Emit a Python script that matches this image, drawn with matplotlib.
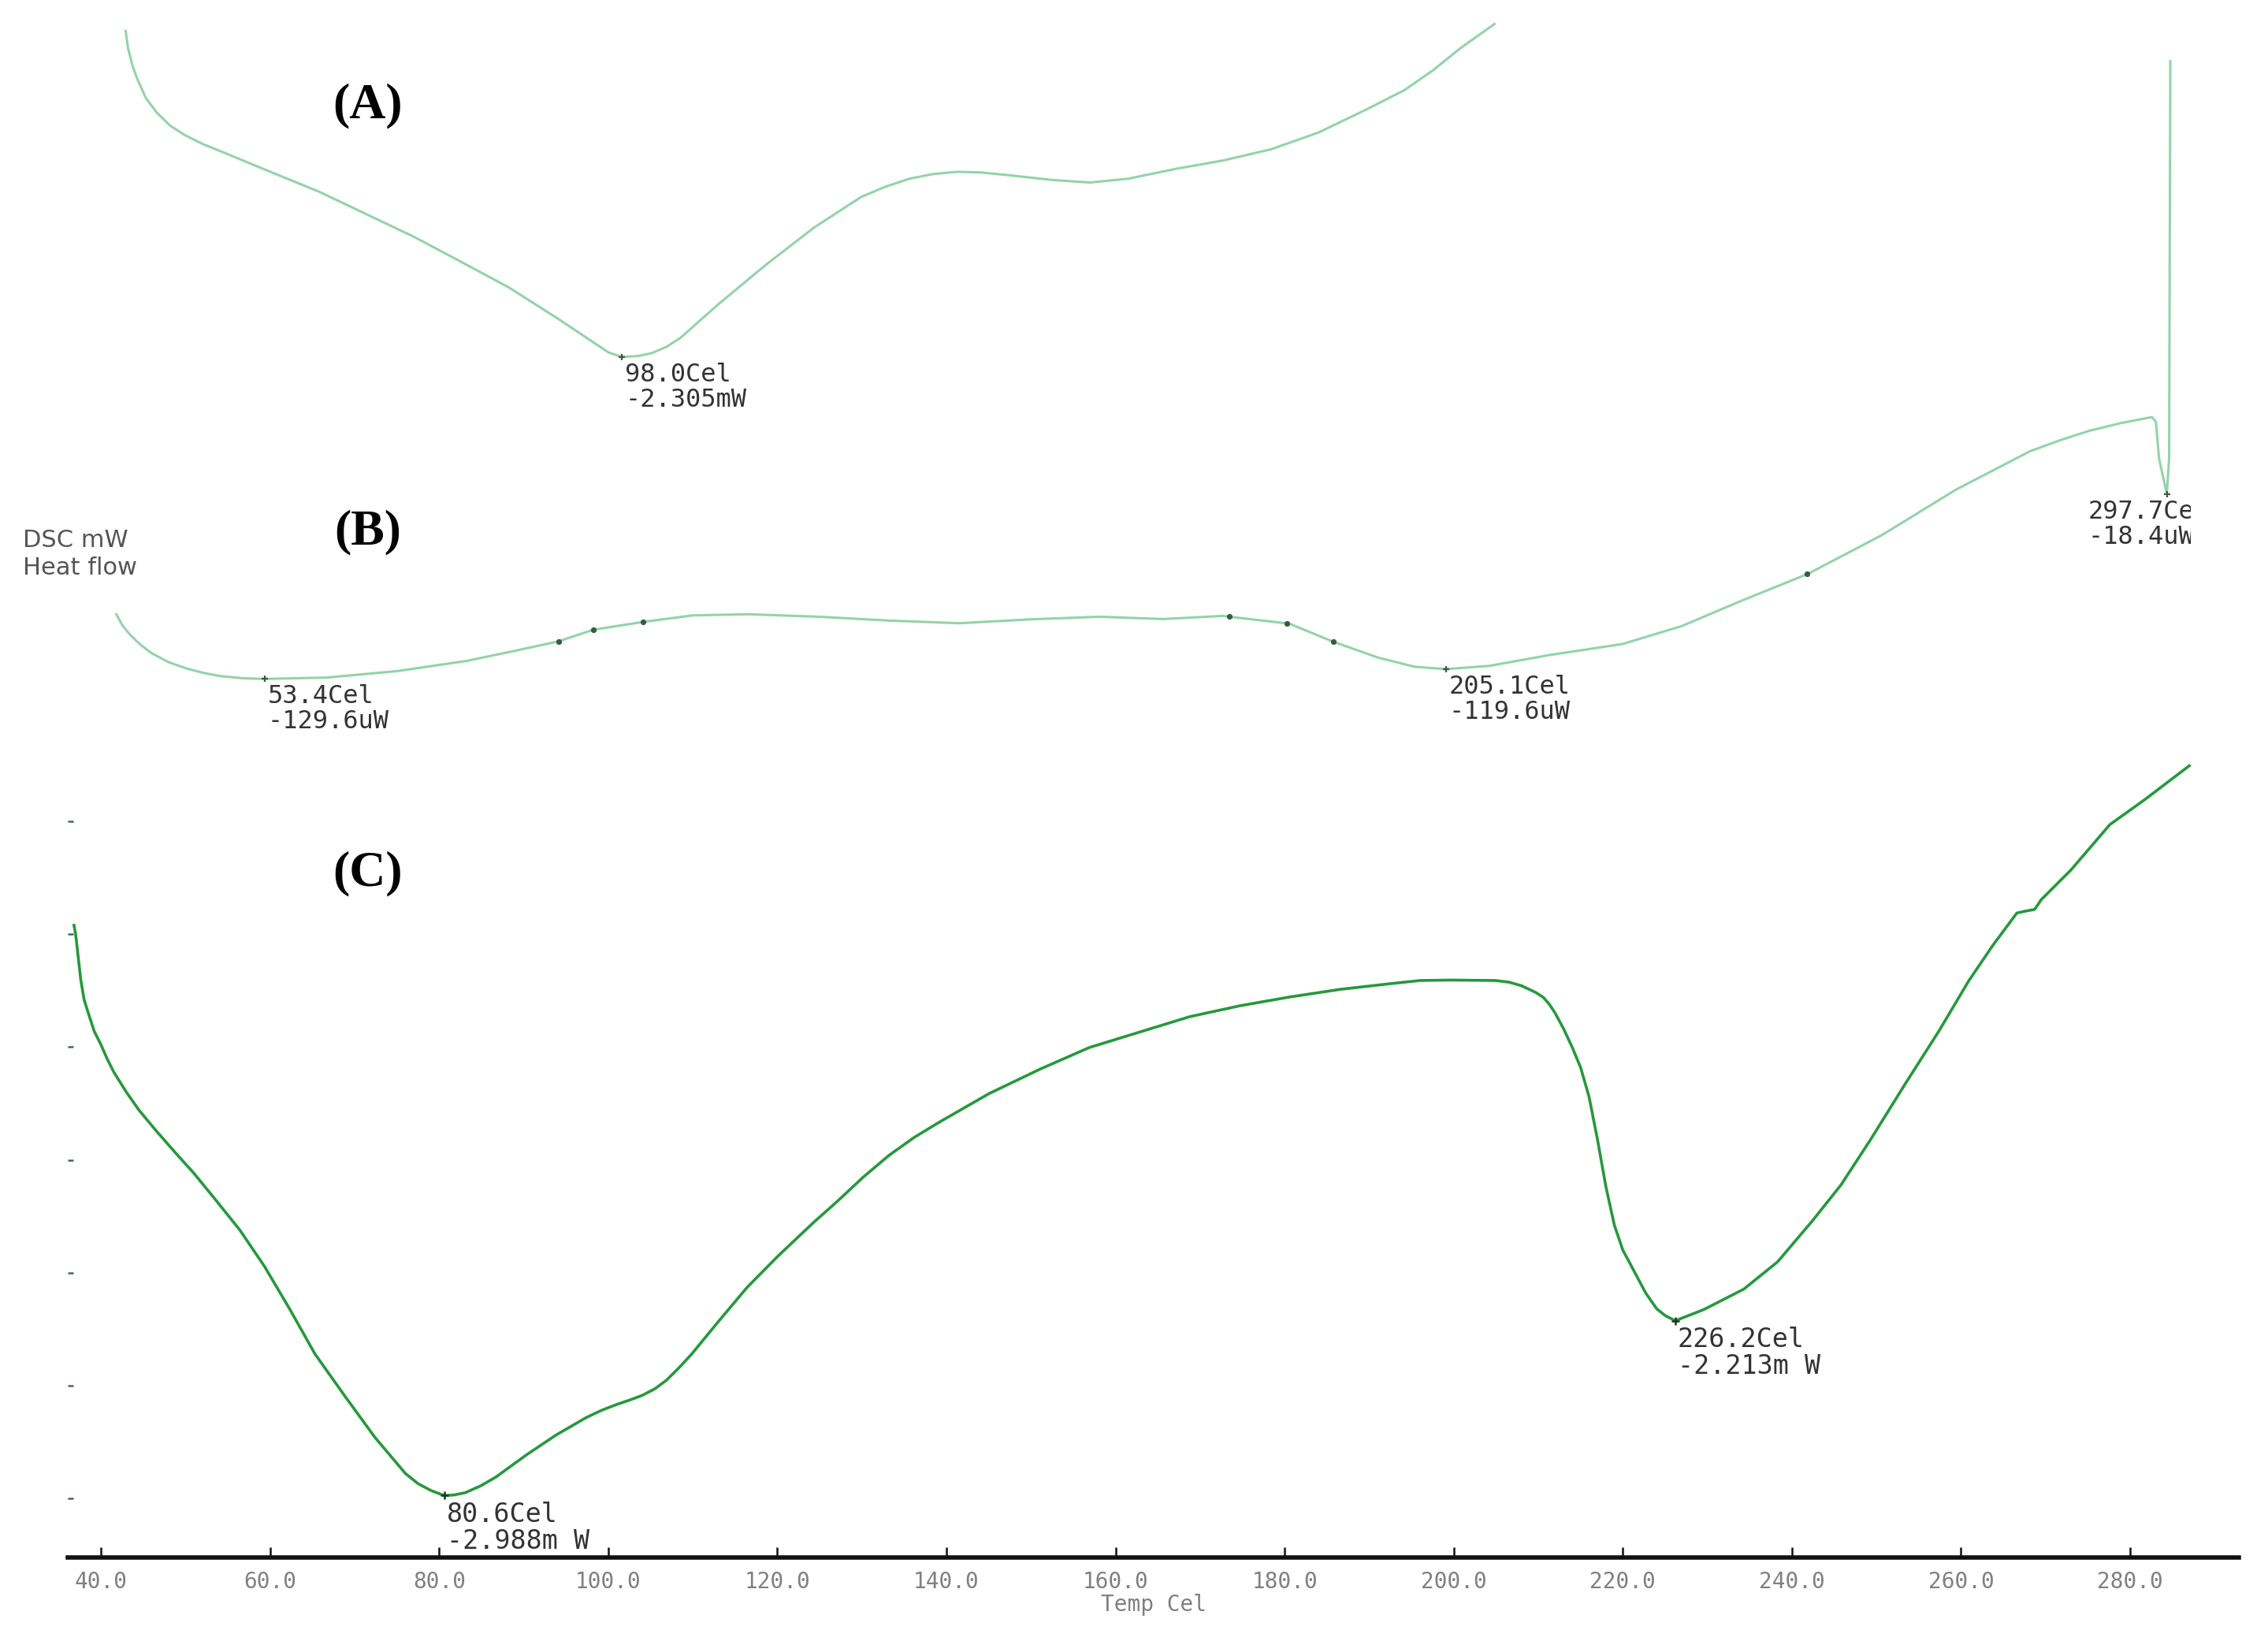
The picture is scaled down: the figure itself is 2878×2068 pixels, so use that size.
import numpy as np
import matplotlib.pyplot as plt
from matplotlib.patches import Rectangle

# (A) heat flow, mW
temp_a = [34.2, 34.5, 35.1, 35.7, 36.8, 38.2, 39.9, 41.8, 44.2, 46.7, 52.8, 59.0,
          65.1, 71.2, 77.3, 83.4, 89.6, 94.5, 96.3, 98.0, 100.0, 101.8, 103.7, 105.5,
          110.4, 116.5, 122.6, 128.7, 131.8, 134.9, 137.9, 141.0, 144.0, 147.1,
          153.2, 158.1, 163.0, 169.1, 175.2, 181.4, 187.5, 193.6, 198.5, 202.2,
          205.8, 210.1]
flow_a = [-1.178, -1.236, -1.300, -1.344, -1.410, -1.460, -1.505, -1.538, -1.570,
          -1.597, -1.665, -1.733, -1.811, -1.889, -1.976, -2.064, -2.170, -2.258,
          -2.290, -2.305, -2.302, -2.292, -2.270, -2.239, -2.122, -1.986, -1.859,
          -1.752, -1.717, -1.689, -1.673, -1.665, -1.667, -1.675, -1.693, -1.702,
          -1.689, -1.655, -1.626, -1.587, -1.529, -1.450, -1.383, -1.314, -1.236,
          -1.154]

# (B) heat flow, uW
temp_b = [34.3, 35.1, 36.1, 37.4, 38.8, 41.0, 43.3, 45.5, 47.8, 50.6, 53.4, 61.3,
          70.4, 79.4, 85.7, 91.1, 95.6, 102.0, 108.3, 115.5, 124.5, 133.5, 142.6,
          151.6, 160.6, 168.8, 176.4, 185.0, 190.6, 196.4, 201.1, 205.1, 210.6,
          218.2, 227.8, 235.4, 243.0, 251.6, 261.1, 270.6, 280.1, 284.0, 287.7,
          291.7, 295.8, 296.3, 296.7, 297.7, 298.0, 298.15]
flow_b = [-90.7, -97.5, -103.2, -109.0, -114.0, -119.5, -123.3, -126.0, -128.0,
          -129.2, -129.6, -128.8, -124.9, -118.7, -112.5, -107.0, -100.0, -95.3,
          -91.4, -90.7, -92.2, -94.5, -96.1, -93.8, -92.2, -93.6, -91.7, -96.4,
          -107.2, -116.8, -122.3, -123.7, -121.8, -115.4, -108.6, -97.8, -82.7,
          -66.4, -43.1, -15.8, 7.3, 14.0, 19.6, 24.2, 27.9, 25.1, 3.2, -18.4, 3.2,
          242.0]
marks_b = [91.1, 95.6, 102.0, 177.3, 184.7, 190.6, 251.5]

# (C) heat flow, mW
temp_c = [36.8, 37.0, 37.3, 37.6, 38.0, 38.5, 39.2, 40.0, 40.7, 41.5, 43.0, 44.5,
          46.5, 48.6, 51.0, 53.4, 56.4, 59.3, 62.3, 65.3, 68.9, 72.4, 76.0, 77.5,
          79.0, 80.6, 81.8, 83.1, 84.9, 86.7, 90.3, 93.8, 97.4, 99.2, 101.0, 102.5,
          104.0, 105.5, 106.9, 108.4, 109.9, 112.9, 116.4, 120.0, 124.2, 127.2,
          130.2, 133.2, 136.2, 139.1, 145.0, 151.0, 156.9, 162.8, 168.8, 174.7,
          180.6, 186.6, 192.5, 196.0, 199.6, 204.9, 206.5, 208.0, 209.7, 210.6,
          211.3, 212.0, 213.0, 214.0, 215.0, 216.0, 217.0, 218.0, 219.0, 220.0,
          221.0, 222.7, 224.0, 225.0, 226.2, 229.6, 234.3, 238.3, 242.4, 245.8,
          249.3, 253.3, 257.4, 260.9, 263.8, 266.6, 267.8, 268.7, 269.5, 273.0,
          277.6, 281.7, 287.0]
flow_c = [-0.46, -0.50, -0.60, -0.70, -0.79, -0.85, -0.93, -0.99, -1.05, -1.11,
          -1.20, -1.28, -1.37, -1.46, -1.56, -1.67, -1.81, -1.97, -2.16, -2.36,
          -2.55, -2.73, -2.89, -2.935, -2.965, -2.988, -2.985, -2.975, -2.945,
          -2.906, -2.808, -2.720, -2.642, -2.610, -2.584, -2.565, -2.544, -2.515,
          -2.476, -2.420, -2.359, -2.222, -2.066, -1.929, -1.780, -1.680, -1.575,
          -1.480, -1.400, -1.334, -1.207, -1.099, -1.002, -0.934, -0.865, -0.817,
          -0.778, -0.744, -0.719, -0.705, -0.703, -0.705, -0.712, -0.728, -0.758,
          -0.780, -0.810, -0.850, -0.920, -1.000, -1.090, -1.220, -1.410, -1.620,
          -1.790, -1.900, -1.970, -2.090, -2.160, -2.190, -2.213, -2.163, -2.073,
          -1.952, -1.771, -1.611, -1.410, -1.169, -0.928, -0.707, -0.547, -0.406,
          -0.396, -0.390, -0.346, -0.215, -0.014, 0.096, 0.247]

peak_t_a = [98.0]
peak_lbl_a = ["98.0Cel\n-2.305mW"]
peak_t_b = [53.4, 205.1, 297.7]
peak_lbl_b = ["53.4Cel\n-129.6uW", "205.1Cel\n-119.6uW", "297.7Cel\n-18.4uW"]
peak_off_b = [(1.3, -2.5), (1.3, -2.5), (-36.0, -2.5)]
peak_t_c = [80.6, 226.2]
peak_lbl_c = ["80.6Cel\n-2.988m W", "226.2Cel\n-2.213m W"]

xticks = [40, 60, 80, 100, 120, 140, 160, 180, 200, 220, 240, 260, 280]
yticks_c = [-3.0, -2.5, -2.0, -1.5, -1.0, -0.5, 0.0]

light = "#93d3a9"
dark = "#25993c"
mono = "DejaVu Sans Mono"

fig = plt.figure(figsize=(14.39, 10.34), dpi=200)
rect = [0.030, 0.0444, 0.9573, 0.9556]

axa = fig.add_axes(rect)
axb = fig.add_axes(rect)
axc = fig.add_axes(rect)
for ax in (axa, axb, axc):
    ax.patch.set_alpha(0)
    for s in ax.spines.values():
        s.set_visible(False)
    ax.set_xticks([])
    ax.set_yticks([])

# A
axa.set_xlim(26.8, 305.8)
axa.set_ylim(-6.456, -1.071)
axa.plot(temp_a, flow_a, color=light, lw=1.1)
for t, lbl in zip(peak_t_a, peak_lbl_a):
    y = np.interp(t, temp_a, flow_a)
    axa.plot(t, y, "+", color="#445544", ms=3, mew=0.8)
    axa.annotate(lbl, (t, y), xytext=(1.3, -2.5), textcoords="offset points",
                 ha="left", va="top", fontsize=11.5, family=mono,
                 color="#333333", linespacing=1.05)

# B
axb.set_xlim(28.1, 307.0)
axb.set_ylim(-658.2, 278.8)
axb.plot(temp_b, flow_b, color=light, lw=1.1)
axb.plot(marks_b, np.interp(marks_b, temp_b, flow_b), "o", color="#3b5a48", ms=1.6)
clip = Rectangle((0, 0), 0.966, 1, transform=fig.transFigure)
for t, lbl, off in zip(peak_t_b, peak_lbl_b, peak_off_b):
    y = np.interp(t, temp_b, flow_b)
    axb.plot(t, y, "+", color="#445544", ms=3, mew=0.8)
    txt = axb.annotate(lbl, (t, y), xytext=off, textcoords="offset points",
                       ha="left", va="top", fontsize=11.5, family=mono,
                       color="#333333", linespacing=1.05, annotation_clip=False)
    txt.set_clip_path(clip)

# C
axc.set_xlim(36.1, 292.9)
axc.set_ylim(-3.263, 3.641)
axc.plot(temp_c, flow_c, color=dark, lw=1.3)
for t, lbl in zip(peak_t_c, peak_lbl_c):
    y = np.interp(t, temp_c, flow_c)
    axc.plot(t, y, "+", color="#223322", ms=3.5, mew=0.9)
    axc.annotate(lbl, (t, y), xytext=(1.0, -2.6), textcoords="offset points",
                 ha="left", va="top", fontsize=12, color="#333333",
                 family=mono, linespacing=1.05)

axc.spines["bottom"].set_visible(True)
axc.spines["bottom"].set_linewidth(2.0)
axc.spines["bottom"].set_color("#111111")
axc.set_xticks(xticks)
axc.set_xticklabels([f"{v:.1f}" for v in xticks], family=mono,
                    fontsize=10, color="#808080")
axc.tick_params(axis="x", direction="in", length=4.6, width=0.9, pad=6, color="#111111")
axc.set_yticks(yticks_c)
axc.set_yticklabels([])
axc.tick_params(axis="y", direction="in", length=2.6, width=0.9, color="#4a6650")
axc.set_xlabel("Temp Cel", family=mono, fontsize=10, color="#808080", labelpad=0.5)

# panel letters and y label
for lbl, yf in [("(A)", 0.935), ("(B)", 0.6735), ("(C)", 0.464)]:
    fig.text(0.162, yf, lbl, family="Liberation Serif", weight="bold", fontsize=23,
             ha="center", va="center")
fig.text(0.0102, 0.660, "DSC mW\nHeat flow", fontsize=11, color="#555555",
         ha="left", va="center", linespacing=1.25)

fig.savefig("out.png", dpi=200)
